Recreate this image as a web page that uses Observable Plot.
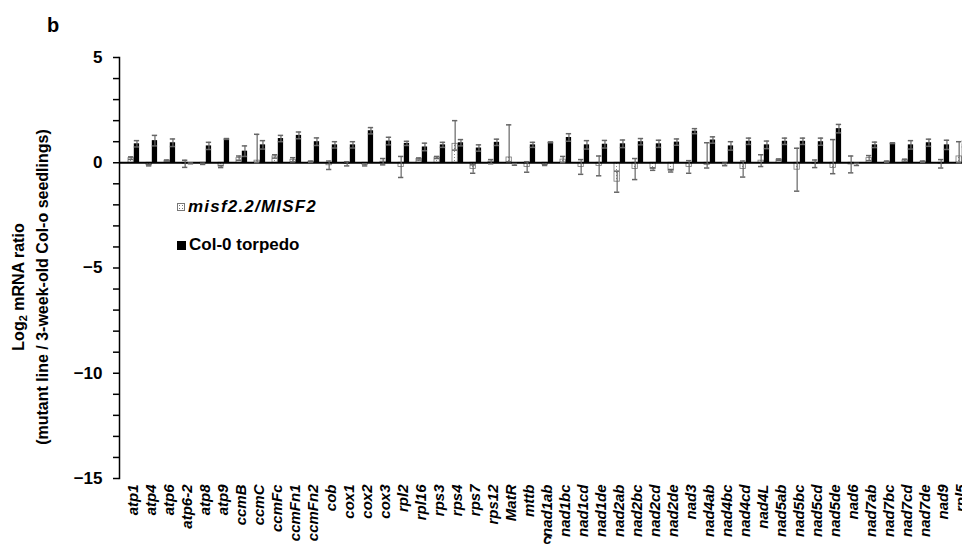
<!DOCTYPE html>
<html>
<head>
<meta charset="utf-8">
<script src="https://cdn.jsdelivr.net/npm/d3@7"></script>
<script src="https://cdn.jsdelivr.net/npm/@observablehq/plot@0.6"></script>
<style>
  html, body { margin: 0; padding: 0; overflow: hidden; background: white; }
  #wrap { position: relative; width: 962px; height: 546px; overflow: hidden; font-family: "Liberation Sans", Arial, sans-serif; }
  #chart svg { display: block; max-width: none !important; }
  .panel { position: absolute; left: 47px; top: 14px; font-size: 20px; font-weight: bold; }
  .ytitle { position: absolute; width: 420px; text-align: center; font-size: 16px; font-weight: bold; white-space: nowrap;
            transform: translate(-50%, -50%) rotate(-90deg); line-height: 1; }
  .ytitle sub { font-size: 11px; vertical-align: -3px; }
  .legend { position: absolute; left: 177px; font-size: 17px; font-weight: bold; display: flex; align-items: center; white-space: nowrap; }
  .legend i { letter-spacing: 1.2px; }
  .sw { width: 8px; height: 8px; margin-right: 3px; box-sizing: border-box; }
  .sw.m { border: 1px solid #777; background-color: white;
          background-image: radial-gradient(#777 0.6px, transparent 0.9px); background-size: 3px 3px; }
  .sw.t { background: black; width: 9px; height: 9px; }
</style>
</head>
<body>
<div id="wrap">
  <div id="chart"></div>
  <div class="panel">b</div>
  <div class="ytitle" style="left:20px; top:287px;">Log<sub>2</sub> mRNA ratio</div>
  <div class="ytitle" style="left:43px; top:287px;">(mutant line / 3-week-old Col-o seedlings)</div>
  <div class="legend" style="top:197px;"><div class="sw m"></div><i>misf2.2/MISF2</i></div>
  <div class="legend" style="top:235px;"><div class="sw t"></div>Col-0 torpedo</div>
</div>
<script>
const categories = ["atp1","atp4","atp6","atp6-2","atp8","atp9","ccmB","ccmC","ccmFc","ccmFn1","ccmFn2","cob","cox1","cox2","cox3","rpl2","rpl16","rps3","rps4","rps7","rps12","MatR","mttb","nad1ab","nad1bc","nad1cd","nad1de","nad2ab","nad2bc","nad2cd","nad2de","nad3","nad4ab","nad4bc","nad4cd","nad4L","nad5ab","nad5bc","nad5cd","nad5de","nad6","nad7ab","nad7bc","nad7cd","nad7de","nad9","rpl5"];

// misf2.2/MISF2 (dotted bars)
const mutantValues = [0.22,-0.12,0.1,-0.05,-0.05,-0.18,0.22,0.1,0.3,0.14,0.05,-0.12,-0.05,-0.1,0.05,-0.2,0.18,0.25,0.9,-0.3,0.05,0.25,-0.2,-0.1,0.15,-0.2,-0.15,-0.9,-0.3,-0.3,-0.38,-0.2,-0.1,-0.08,-0.3,0.1,0.15,-0.33,-0.05,-0.25,-0.08,0.22,0.05,0.12,0.05,-0.05,0.3];
const mutantErrUp = [0.06,0.03,0.03,0.17,0.03,0.05,0.1,1.25,0.08,0.1,0.03,0.2,0.1,0.05,0.15,0.5,0.05,0.05,1.1,0.2,0.1,1.55,0.25,0.03,0.15,0.35,0.47,0.5,0.5,0.06,0.06,0.3,1.05,0.06,0.38,0.28,0.03,1.02,0.18,1.35,0.4,0.12,0.03,0.05,0.03,0.2,0.7];
const mutantErrDown = [0.06,0.03,0.03,0.17,0.03,0.05,0.1,0.1,0.08,0.1,0.03,0.2,0.1,0.05,0.15,0.5,0.05,0.05,0.3,0.2,0.1,0.2,0.25,0.03,0.15,0.35,0.47,0.5,0.5,0.06,0.06,0.3,0.15,0.06,0.38,0.28,0.03,1.02,0.18,0.27,0.4,0.12,0.03,0.05,0.03,0.2,0.3];

// Col-0 torpedo (black bars)
const torpedoValues = [0.9,1.05,0.95,-0.03,0.8,1.13,0.55,0.85,1.15,1.3,1.0,0.85,0.85,1.52,1.03,0.92,0.75,0.85,0.95,0.7,0.97,-0.08,0.85,0.97,1.2,0.85,0.88,0.9,1.0,0.9,0.98,1.5,1.08,0.8,1.02,0.85,1.02,1.02,1.0,1.62,-0.08,0.85,0.93,0.85,0.95,0.85,0.9];
const torpedoErr = [0.15,0.25,0.18,0.02,0.17,0.02,0.25,0.2,0.15,0.16,0.18,0.15,0.15,0.15,0.18,0.1,0.18,0.12,0.15,0.15,0.15,0.04,0.12,0.02,0.18,0.2,0.18,0.18,0.15,0.17,0.15,0.12,0.15,0.2,0.15,0.18,0.15,0.15,0.17,0.2,0.05,0.13,0.02,0.2,0.17,0.22,0.15];

const yTicks = d3.range(-15, 6, 1);
const yLabelled = [5, 0, -5, -10, -15];

const data = categories.map((c, i) => ({
  c,
  m: mutantValues[i], mUp: mutantErrUp[i], mDn: mutantErrDown[i],
  t: torpedoValues[i], tErr: torpedoErr[i]
}));

const defs = () => {
  const ns = "http://www.w3.org/2000/svg";
  const d = document.createElementNS(ns, "defs");
  d.innerHTML = `<pattern id="dots" width="3" height="3" patternUnits="userSpaceOnUse">
      <rect width="3" height="3" fill="white"/><rect x="1" y="1" width="1" height="1" fill="#8a8a8a"/></pattern>`;
  return d;
};

const mIn = {insetLeft: 4, insetRight: 8.7};
const tIn = {insetLeft: 9.8, insetRight: 2.9};
const errColor = "#666";

const chart = Plot.plot({
  width: 975,
  height: 546,
  marginLeft: 119,
  marginRight: 0,
  marginTop: 57,
  marginBottom: 68,
  style: {fontFamily: "'Liberation Sans', Arial, sans-serif", background: "white", color: "black", maxWidth: "none"},
  x: {domain: categories, padding: 0, axis: null},
  y: {domain: [-15, 5], axis: null},
  marks: [
    defs,
    Plot.barY(data, {x: "c", y: "m", ...mIn, fill: "url(#dots)", stroke: "#777", strokeWidth: 0.8}),
    Plot.barY(data, {x: "c", y: "t", ...tIn, fill: "black"}),
    Plot.ruleY([0], {stroke: "black", strokeWidth: 2}),
    Plot.ruleX(data, {x: "c", y1: d => d.m - d.mDn, y2: d => d.m + d.mUp, dx: -2.35, stroke: errColor, strokeWidth: 1.2}),
    Plot.tickY(data, {x: "c", y: d => d.m + d.mUp, ...mIn, stroke: errColor, strokeWidth: 1.5}),
    Plot.tickY(data, {x: "c", y: d => d.m - d.mDn, ...mIn, stroke: errColor, strokeWidth: 1.5}),
    Plot.ruleX(data, {x: "c", y1: d => d.t - d.tErr, y2: d => d.t + d.tErr, dx: 3.45, stroke: errColor, strokeWidth: 1.2}),
    Plot.tickY(data, {x: "c", y: d => d.t + d.tErr, ...tIn, stroke: errColor, strokeWidth: 1.5}),
    Plot.tickY(data, {x: "c", y: d => d.t - d.tErr, ...tIn, stroke: errColor, strokeWidth: 1.5}),
    Plot.frame({anchor: "left", stroke: "black", strokeWidth: 1.5}),
    Plot.axisY({
      ticks: yTicks, tickSize: 6, tickPadding: 11, strokeWidth: 1.5,
      tickFormat: d => yLabelled.includes(d) ? (d < 0 ? "\u2212" + (-d) : String(d)) : "",
      fontSize: 17, fontWeight: "bold"
    }),
    Plot.axisX({
      anchor: "bottom", tickSize: 0, tickPadding: 6, tickRotate: -90,
      fontSize: 15, fontWeight: "bold", fontStyle: "italic"
    })
  ]
});
document.getElementById("chart").appendChild(chart);
</script>
</body>
</html>
